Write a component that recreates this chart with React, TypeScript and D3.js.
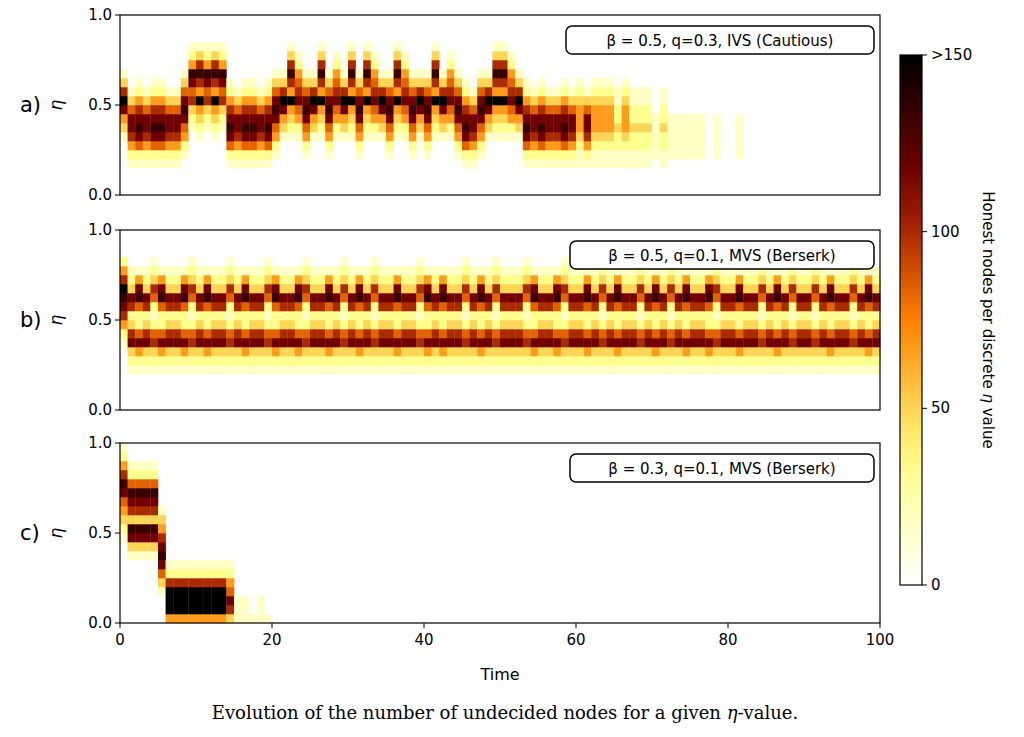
import React from 'react';
import * as d3 from 'd3';

// column profiles: 20 eta bins (0.00-0.05 ... 0.95-1.00), bottom -> top, intensity 0..9 (9 = >150)
const profiles: Record<string, string> = {
  M: '00000013479631000000',
  L: '00012467753100000000',
  l: '00012578764210000000',
  U: '00000001236578421000',
  u: '00000012457654210000',
  D: '00001245787531000000',
  V: '00000012349468631000',
  F: '00011234443210000000',
  f: '00011223221100000000',
  e: '00001111100000000000',
  '0': '00000000000000000000',
  S: '00000001246789642000',
  B: '00001237632673210000',
  b: '00001247522587410000',
  c: '00001236521256321000',
  H: '00000000012345786421',
  T: '00000001378367852100',
  W: '00013578764310000000',
  K: '49996210000000000000',
  k: '36754210000000000000',
  g: '11100000000000000000',
  h: '10000000000000000000',
};

// one profile key per time step t = 0..99
const seqA = 'M' + 'LlLllLLD' + 'UVUVU' + 'lLllLlDM' + 'VuDMVDuMVDVuMDVuDMDVMuDlLDMVVuM' + 'lLlLLlLFLF' + 'FFfFfffefeeee' + 'e0e00e0000' + '00000000000000';
const seqB = 'S' + 'BbBcbBBbcB' + 'bBBcBbBBcb' + 'BBbcBBbBcB' + 'bBcBBbBBcb' + 'BbBBcBbBcB' + 'BBcbBBbcBB' + 'bBcBbBBcBb' + 'BcBbBBbcBB' + 'bBBcBbBcBB' + 'cBbBBcBbB';
const seqC = 'H' + 'TTTT' + 'W' + 'KKKKKKKK' + 'k' + 'gghgh' + '0'.repeat(80);

const panelLabels = ['a)', 'b)', 'c)'];
const legends = ['β = 0.5, q=0.3, IVS (Cautious)', 'β = 0.5, q=0.1, MVS (Berserk)', 'β = 0.3, q=0.1, MVS (Berserk)'];
const panelSeqs = [seqA, seqB, seqC];
const yTicks = [0, 0.5, 1];
const xTicks = [0, 20, 40, 60, 80, 100];
const cbTicks = [0, 50, 100, 150];

const afmhotR = (v: number) => {
  const x = 1 - Math.max(0, Math.min(1, v));
  const c = (n: number) => Math.round(255 * Math.max(0, Math.min(1, n)));
  return `rgb(${c(2 * x)},${c(2 * x - 0.5)},${c(2 * x - 1)})`;
};

const left = 112, right = 872;
const tops = [7, 222, 435];
const ph = 180;

const App: React.FC = () => {
  const x = d3.scaleLinear().domain([0, 100]).range([left, right]);
  const cb = d3.scaleLinear().domain([0, 150]).range([577, 47]);
  const font = 'DejaVu Sans, sans-serif';
  const cw = x(1) - x(0);

  return (
    <svg width={1010} height={725} style={{ display: 'block' }}>
      <rect width={1010} height={725} fill="white" />
      {panelSeqs.map((seq, p) => {
        const top = tops[p];
        const y = d3.scaleLinear().domain([0, 1]).range([top + ph, top]);
        const bh = y(0) - y(0.05);
        const cells: JSX.Element[] = [];
        seq.split('').forEach((k, t) => {
          profiles[k].split('').forEach((d, r) => {
            const v = +d;
            if (v === 0) return;
            cells.push(
              <rect key={`${t}-${r}`} x={x(t)} y={y((r + 1) * 0.05)} width={cw + 0.3} height={bh + 0.3} fill={afmhotR(v / 9)} />
            );
          });
        });
        const lw = p === 0 ? 308 : 304;
        return (
          <g key={p}>
            {cells}
            <rect x={left} y={top} width={right - left} height={ph} fill="none" stroke="black" strokeWidth={1.2} />
            {yTicks.map((v) => (
              <g key={v}>
                <line x1={left - 5} x2={left} y1={y(v)} y2={y(v)} stroke="black" />
                <text x={left - 8} y={y(v) + 5} textAnchor="end" fontSize={15} fontFamily={font}>{v.toFixed(1)}</text>
              </g>
            ))}
            <text x={12} y={y(0.5) + 7} fontSize={21} fontFamily={font}>{panelLabels[p]}</text>
            <text transform={`translate(54,${y(0.5)}) rotate(-90)`} textAnchor="middle" fontSize={17} fontStyle="italic" fontFamily={font}>η</text>
            <rect x={right - 6 - lw} y={top + 11} width={lw} height={28} rx={6} fill="white" stroke="black" strokeWidth={1.5} />
            <text x={right - 6 - lw / 2} y={top + 31} textAnchor="middle" fontSize={15} fontFamily={font}>{legends[p]}</text>
            {p === 2 && xTicks.map((v) => (
              <g key={v}>
                <line x1={x(v)} x2={x(v)} y1={top + ph} y2={top + ph + 5} stroke="black" />
                <text x={x(v)} y={top + ph + 22} textAnchor="middle" fontSize={15} fontFamily={font}>{v}</text>
              </g>
            ))}
          </g>
        );
      })}
      <text x={(left + right) / 2} y={672} textAnchor="middle" fontSize={16} fontFamily={font}>Time</text>
      <defs>
        <linearGradient id="cbg" x1="0" y1="1" x2="0" y2="0">
          {d3.range(0, 1.01, 0.1).map((o) => (
            <stop key={o} offset={o} stopColor={afmhotR(o)} />
          ))}
        </linearGradient>
      </defs>
      <rect x={892} y={47} width={22} height={530} fill="url(#cbg)" stroke="black" strokeWidth={1.2} />
      {cbTicks.map((v) => (
        <g key={v}>
          <line x1={914} x2={919} y1={cb(v)} y2={cb(v)} stroke="black" />
          <text x={923} y={cb(v) + 5} fontSize={15} fontFamily={font}>{v === 150 ? '>150' : v}</text>
        </g>
      ))}
      <text transform="translate(975,312) rotate(90)" textAnchor="middle" fontSize={15} fontFamily={font}>
        Honest nodes per discrete <tspan fontStyle="italic">η</tspan> value
      </text>
      <text x={497} y={711} textAnchor="middle" fontSize={18} fontFamily="DejaVu Serif, serif">
        Evolution of the number of undecided nodes for a given <tspan fontStyle="italic">η</tspan>-value.
      </text>
    </svg>
  );
};

export default App;
